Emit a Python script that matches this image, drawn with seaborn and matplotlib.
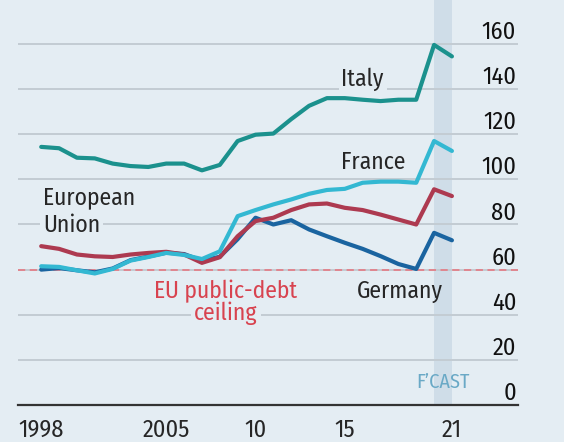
import matplotlib
matplotlib.use("Agg")
import matplotlib.pyplot as plt
import seaborn as sns
import pandas as pd

# --- Data: government debt, % of GDP ---
years = list(range(1998, 2022))
italy = [114.4, 113.8, 109.6, 109.3, 107.0, 105.9, 105.5, 107.0, 107.0, 104.0, 106.4, 117.0,
         119.8, 120.3, 126.7, 132.6, 136.0, 136.0, 135.3, 134.7, 135.3, 135.3, 159.6, 154.5]
france = [61.5, 61.2, 59.7, 58.3, 60.3, 64.0, 65.6, 67.4, 66.5, 64.7, 68.1, 83.7,
          86.4, 88.9, 91.1, 93.6, 95.3, 95.8, 98.5, 99.0, 99.0, 98.5, 117.0, 112.6]
eu = [70.4, 69.2, 66.7, 65.9, 65.6, 66.7, 67.4, 67.9, 66.7, 63.0, 65.5, 74.8,
      81.5, 83.0, 86.4, 88.9, 89.3, 87.4, 86.4, 84.4, 82.2, 80.0, 95.6, 92.6]
germany = [60.0, 60.7, 59.7, 58.8, 60.5, 64.2, 65.8, 67.5, 66.9, 64.0, 65.7, 73.5,
           83.0, 80.0, 81.9, 77.8, 74.8, 71.9, 69.2, 66.0, 62.5, 60.3, 76.3, 73.0]

yticks = [0, 20, 40, 60, 80, 100, 120, 140, 160]
xticks = [1998, 2005, 2010, 2015, 2021]
xtick_labels = ["1998", "2005", "10", "15", "21"]

df = pd.DataFrame({"year": years, "Italy": italy, "France": france,
                   "European Union": eu, "Germany": germany})

bg = "#e4edf3"
colors = {"Italy": "#1b918d", "Germany": "#1a64a0",
          "European Union": "#ad3a50", "France": "#33b8d2"}

sns.set_style("white")
plt.rcParams['font.family'] = ['Fira Sans Condensed', 'Roboto Condensed', 'DejaVu Sans']

fig = plt.figure(figsize=(5.64, 4.42), dpi=100, facecolor=bg)
ax = fig.add_axes([18 / 564, 37 / 442, 500 / 564, 405 / 442], facecolor=bg)

# forecast band
ax.axvspan(2020, 2021, color="#cfdde8", zorder=0, lw=0)

# gridlines
for v in yticks[1:]:
    ax.axhline(v, color="#c3ccd3", lw=1.4, zorder=1)

# EU debt ceiling
ax.axhline(60, color="#e38089", lw=1.3, ls=(0, (4, 2.5)), zorder=2)

for name in ["Italy", "Germany", "European Union", "France"]:
    sns.lineplot(data=df, x="year", y=name, color=colors[name], lw=3,
                 ax=ax, zorder=3)

ax.set_xlim(1996.7, 2024.7)
ax.set_ylim(0, 179.5)

# y labels sit above gridlines on the right
for v in yticks:
    ax.text(2024.6, v + 2.2, str(v), ha="right", va="baseline", fontsize=17.5,
            color="#111111", zorder=4)

ax.set_yticks([])
ax.set_xticks(range(1998, 2022), minor=True)
ax.set_xticks(xticks)
ax.set_xticklabels(xtick_labels, fontsize=17.5)
ax.tick_params(axis="x", which="major", length=7, width=1.5, color="#555555",
               pad=3, direction="out")
ax.tick_params(axis="x", which="minor", length=5, width=1.5, color="#777777",
               direction="out")
ax.set_xlabel("")
ax.set_ylabel("")

for s in ["top", "left", "right"]:
    ax.spines[s].set_visible(False)
ax.spines["bottom"].set_color("#333333")
ax.spines["bottom"].set_linewidth(1.6)

# --- Labels ---
box = dict(facecolor=bg, edgecolor="none", pad=2)
ax.text(2016.0, 144.5, "Italy", fontsize=17, ha="center", va="center", bbox=box, zorder=4)
ax.text(2016.6, 107.5, "France", fontsize=17, ha="center", va="center", zorder=4)
ax.text(1998.1, 92, "European", fontsize=17, ha="left", va="center", zorder=4)
ax.text(1998.1, 79.5, "Union", fontsize=17, ha="left", va="center", bbox=box, zorder=4)
ax.text(2018.1, 50.2, "Germany", fontsize=17, ha="center", va="center", zorder=4)
ax.text(2008.35, 50.5, "EU public-debt", fontsize=17, ha="center", va="center",
        color="#d8434f", zorder=4)
ax.text(2008.35, 40.5, "ceiling", fontsize=17, ha="center", va="center",
        color="#d8434f", bbox=box, zorder=4)
ax.text(2020.5, 10, "F\u2019CAST", fontsize=14.5, ha="center", va="center",
        color="#6aa9c6", zorder=4)

fig.savefig("out.png", dpi=100, facecolor=bg)
